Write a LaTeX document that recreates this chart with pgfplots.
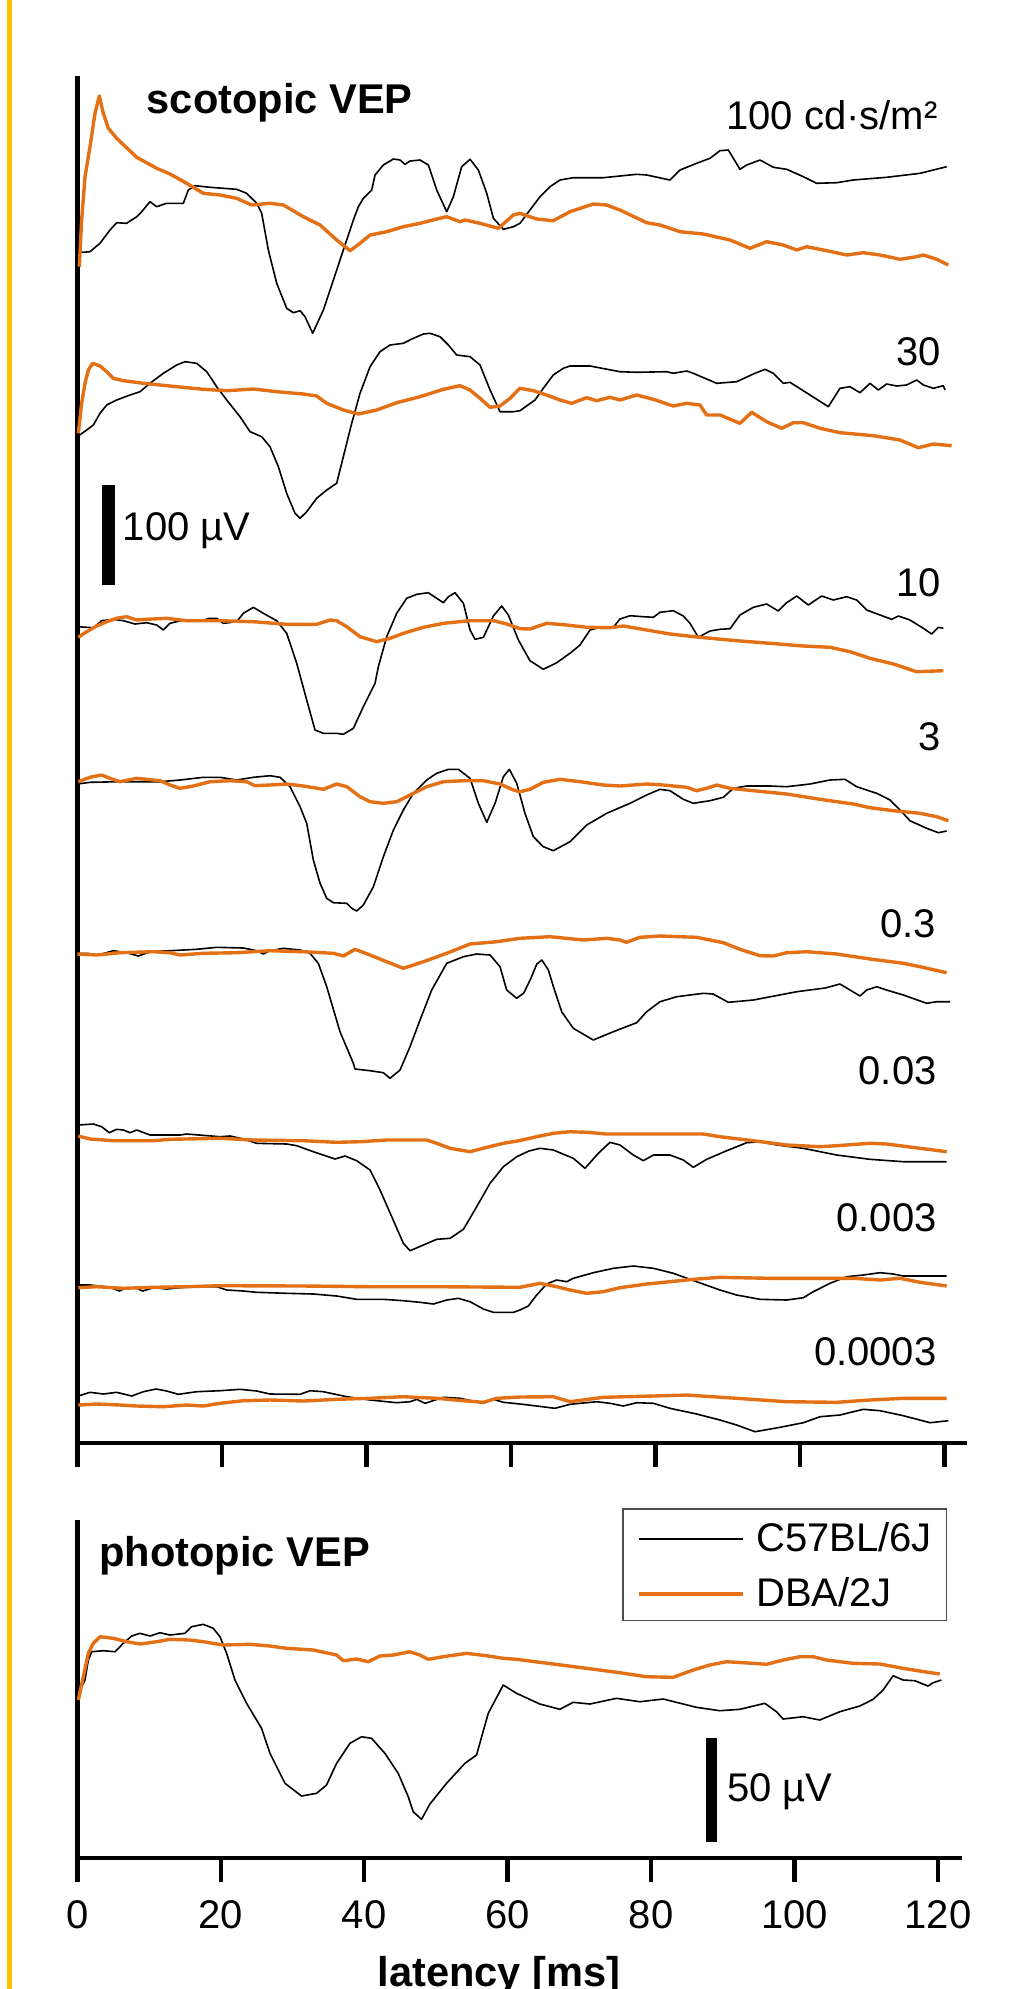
\documentclass[border=0pt]{standalone}
\usepackage{fontspec}
\setmainfont{Liberation Sans}
\usepackage{pgfplots}
\pgfplotsset{compat=1.18}
\definecolor{dba}{RGB}{228,112,22}
\definecolor{goldline}{RGB}{255,192,0}
\pgfplotsset{
  blk/.style={black, line width=0.4pt, line join=round},
  org/.style={dba, line width=0.85pt, line join=round},
  vep/.style={
    scale only axis, clip=false,
    axis lines=left, axis line style={-, line width=1.15pt},
    xmin=0, ytick=\empty,
    xtick={0,20,40,60,80,100,120},
    tick align=outside, major tick length=6pt,
    tick style={line width=1.1pt, black},
    /pgf/number format/assume math mode=true,
    ticklabel style={font=\fontsize{10}{12}\selectfont},
  },
}
\newcommand{\lbl}{\fontsize{10}{12}\selectfont}
\newcommand{\blbl}{\bfseries\fontsize{10.4}{12.5}\selectfont}
\begin{document}
\begin{tikzpicture}
\useasboundingbox (0pt,0pt) rectangle (252pt,-497.25pt);
\fill[goldline] (1.625pt,0pt) rectangle (2.875pt,-497.25pt);

% ---------------- scotopic ----------------
\begin{axis}[vep,
  at={(19.325pt,-360.75pt)}, anchor=south west,
  width=222.35pt, height=341.75pt,
  xmax=123.1, ymin=-1443, ymax=-76,
  xticklabels={},
]
% 100 cd s/m2
\addplot[blk] coordinates {(0,-252.7)(1.76,-251.7)(3.14,-243.3)(4.53,-230)(5.45,-222.7)(6.83,-223.3)(8.22,-216.7)(8.91,-211.7)(10.06,-201.7)(10.99,-206.7)(12.37,-203.3)(14.68,-203.3)(15.37,-190)(16.29,-185.7)(18.37,-187.3)(22.06,-189.3)(23.44,-193.3)(24.83,-203.3)(25.52,-213.3)(26.44,-250)(27.60,-283.3)(28.98,-308.3)(29.90,-312.7)(30.83,-310.7)(31.52,-316.7)(32.58,-333.3)(34.06,-310)(35.44,-280)(36.82,-250)(38.21,-220)(38.90,-206.7)(39.59,-198.3)(40.75,-190)(41.21,-175)(42.36,-165)(43.75,-159)(44.67,-160)(45.36,-164.3)(46.05,-161)(47.44,-160)(48.59,-165)(49.74,-190)(51.13,-211.7)(52.05,-196.7)(53.20,-166.7)(54.36,-159.3)(55.51,-170)(56.67,-193.3)(57.59,-218.3)(58.97,-229.3)(60.36,-226.7)(61.27,-223.3)(62.65,-210)(64.04,-196.7)(65.42,-186.7)(66.81,-180)(68.65,-177.7)(72.81,-177.7)(77.42,-174.3)(78.80,-175)(82.03,-180)(83.42,-170)(85.72,-163.3)(87.57,-158.3)(88.95,-150.7)(90.11,-150)(91.72,-169.3)(92.65,-165)(94.49,-160)(96.34,-167.3)(98.18,-169.3)(100.49,-176.7)(102.33,-183.3)(105.10,-182.7)(107.41,-180)(112.02,-177.3)(116.64,-173.3)(120.33,-166.7)};
\addplot[org] coordinates {(0.28,-266.7)(0.60,-220)(1.07,-176.7)(1.76,-146.7)(2.45,-113.3)(3.05,-96)(3.60,-113.3)(4.30,-128.3)(5.45,-138.3)(8.22,-157.3)(10.99,-168.3)(12.83,-174)(15.14,-183.3)(17.45,-193.3)(19.75,-195)(22.06,-198.3)(24.14,-205)(26.67,-203.3)(28.52,-205)(31.29,-216.7)(33.60,-225)(35.90,-240)(37.75,-250.7)(39.13,-243.3)(40.52,-235)(42.82,-231.7)(45.13,-226.7)(47.44,-223.3)(49.74,-219)(51.13,-216.7)(52.97,-221.7)(53.67,-220)(55.74,-223.3)(58.28,-228.3)(60.36,-215)(61.27,-213.3)(63.58,-219)(65.88,-220.7)(68.19,-211.7)(71.42,-204)(73.27,-205)(75.11,-210)(78.80,-222.7)(80.65,-225)(83.42,-231.7)(86.65,-234)(90.34,-240)(93.11,-248.3)(95.41,-241.7)(97.72,-245)(99.57,-250)(100.95,-246.7)(103.72,-250.7)(106.49,-255)(108.79,-252.7)(111.10,-255)(113.87,-259.3)(116.18,-256.7)(117.10,-255)(118.95,-259.3)(120.56,-265)};
% 30
\addplot[blk] coordinates {(0,-436.7)(1.30,-430)(2.22,-425)(3.14,-413.3)(4.07,-405)(5.45,-400)(7.30,-395)(8.68,-391.7)(10.06,-383.3)(11.91,-373.3)(13.75,-365)(14.91,-361.7)(16.52,-363.3)(17.91,-371.7)(19.29,-386.7)(20.68,-400)(22.52,-416.7)(23.91,-431.7)(25.52,-436.7)(26.67,-446.7)(27.83,-466.7)(28.98,-493.3)(30.13,-513.3)(30.83,-518.3)(31.75,-511.7)(33.13,-498.3)(34.52,-490)(35.90,-483.3)(36.82,-456.7)(37.98,-423.3)(39.13,-393.3)(40.52,-366.7)(41.90,-351.7)(43.28,-345)(45.13,-343.3)(46.51,-338.3)(47.90,-334)(48.82,-333.3)(50.21,-336.7)(51.36,-345)(52.51,-355)(54.36,-356.7)(55.74,-365)(57.13,-390)(58.51,-411.7)(60.36,-411.7)(61.27,-410.7)(63.35,-400)(64.50,-388.3)(65.88,-375)(67.27,-368.3)(68.19,-366)(70.96,-366)(75.11,-371.7)(77.42,-372.3)(81.57,-371.7)(82.49,-373.3)(84.34,-371)(85.26,-373.3)(88.49,-383.3)(91.26,-381.7)(93.57,-374)(95.18,-369.3)(96.34,-373.3)(97.72,-383.3)(98.64,-382.3)(101.41,-395)(103.95,-406.7)(105.56,-388.3)(106.95,-386.7)(108.33,-392.7)(109.72,-383.3)(110.87,-390)(112.02,-384)(113.41,-386)(114.79,-385)(116.18,-380)(117.10,-385)(118.48,-388.3)(119.87,-385.7)(120.10,-390)};
\addplot[org] coordinates {(0.14,-433.3)(0.60,-403.3)(1.07,-383.3)(1.53,-370)(2.13,-363.3)(3.14,-366)(4.07,-371.7)(4.99,-378.3)(6.37,-380.7)(9.14,-383.3)(12.83,-386)(17.45,-389.3)(20.68,-390.7)(24.37,-389)(27.60,-391.7)(31.29,-394)(33.13,-396)(34.52,-403.3)(36.82,-410)(38.90,-414)(41.44,-410)(44.21,-402.7)(47.44,-396.7)(50.67,-389.3)(52.97,-385.7)(54.36,-390)(55.74,-398.3)(57.13,-407.3)(58.51,-406)(59.90,-398.3)(61.27,-388.3)(63.12,-390.7)(64.96,-395)(66.81,-400)(68.42,-403.3)(70.50,-397.7)(71.88,-400.7)(73.73,-397.3)(75.11,-400)(77.42,-395)(79.73,-399.3)(82.49,-406)(84.34,-403.3)(86.19,-405)(87.11,-415)(88.95,-415)(91.72,-423.3)(93.34,-412.3)(95.41,-421.7)(97.49,-428.3)(99.10,-422.7)(100.49,-422.7)(102.80,-428.3)(105.56,-432.7)(110.18,-435.7)(113.87,-440)(116.41,-447.7)(118.48,-444)(121.02,-445.7)};
% 10
\addplot[blk] coordinates {(0,-626.7)(1.30,-627.3)(2.22,-627.7)(3.37,-620.7)(4.99,-619.3)(6.37,-620.7)(7.99,-624)(9.60,-622.7)(10.99,-625)(11.91,-630)(12.83,-623.3)(14.68,-620)(17.45,-620)(18.37,-618.3)(19.29,-618.3)(20.21,-623.3)(22.06,-621.7)(22.98,-613.3)(24.37,-607.3)(25.75,-613.3)(27.60,-620.7)(28.98,-633.3)(30.37,-663.3)(31.75,-700)(32.90,-730)(34.06,-733.3)(35.90,-733.3)(36.82,-734.3)(38.21,-728.3)(39.59,-706.7)(41.21,-683.3)(41.67,-666.7)(42.82,-636.7)(44.21,-613.3)(45.59,-598.3)(46.98,-594.3)(48.59,-592.7)(49.74,-598.3)(50.67,-602.7)(51.36,-596.7)(52.28,-592.7)(53.44,-603.3)(54.36,-630)(55.05,-639.3)(56.21,-637.3)(57.59,-616)(58.74,-606)(59.66,-615)(61.05,-640)(62.65,-660.7)(64.50,-669.3)(66.35,-662.7)(68.19,-653.3)(69.58,-645)(70.96,-630)(72.34,-627.3)(74.19,-627.3)(75.11,-619)(76.50,-615.7)(78.34,-616.7)(79.73,-617.3)(80.65,-612.3)(82.49,-610.7)(83.88,-616)(84.80,-623.3)(85.95,-637.3)(87.57,-631)(88.95,-629.3)(90.34,-628.7)(91.72,-615)(93.57,-607.3)(95.41,-604)(97.03,-611)(98.18,-602.7)(99.57,-596)(101.18,-605)(103.03,-596)(104.64,-600)(106.49,-596.7)(107.87,-600)(109.26,-610)(111.10,-615)(112.72,-619.3)(113.64,-616)(115.25,-620)(117.10,-628.3)(118.25,-634)(119.18,-627.3)(119.87,-628.3)};
\addplot[org] coordinates {(0.14,-637.3)(1.30,-631.7)(2.68,-626)(4.07,-621.7)(5.45,-618.3)(6.83,-616.7)(8.22,-620)(9.60,-619.3)(12.37,-618.3)(15.14,-620.7)(19.75,-620.7)(24.37,-621.7)(28.98,-624.3)(33.13,-624.3)(34.98,-620)(35.90,-620.7)(37.29,-626.7)(39.13,-636.7)(41.44,-641.7)(43.28,-638.3)(45.13,-633.3)(47.90,-627.3)(50.67,-623.3)(54.36,-620.7)(57.59,-620.7)(59.43,-624)(61.28,-628.7)(62.65,-629)(64.96,-623.3)(67.73,-625)(70.50,-627.3)(73.73,-627.7)(75.57,-626)(77.42,-628.3)(82.03,-634)(86.19,-637.3)(91.26,-640.7)(95.88,-643.3)(100.49,-646)(104.18,-647.3)(106.95,-651.7)(109.72,-658.3)(112.95,-664)(116.18,-671.7)(119.87,-670.7)};
% 3
\addplot[blk] coordinates {(0,-784)(1.76,-782.3)(5.91,-781.7)(11.45,-781.7)(14.22,-780)(17.45,-777.3)(19.75,-777.3)(22.06,-780)(24.37,-777.3)(26.67,-775.7)(28.06,-777.3)(29.44,-786.7)(30.83,-806.7)(31.75,-823.3)(32.67,-860)(33.60,-883.3)(34.52,-898.3)(35.44,-902.7)(37.29,-903.3)(37.98,-908.3)(38.67,-911)(39.59,-905)(40.98,-886.7)(42.36,-856.7)(43.75,-830)(45.13,-810)(46.51,-793.3)(48.36,-780)(49.74,-773.3)(51.36,-769.3)(52.74,-769.3)(54.36,-778.3)(55.51,-803.3)(56.67,-822.3)(57.82,-803.3)(58.97,-776.7)(59.80,-769.3)(60.82,-783.3)(61.96,-813.3)(63.12,-836.7)(64.50,-846.7)(65.88,-850.7)(68.19,-841.7)(70.50,-825)(73.27,-813.3)(76.50,-803.3)(78.80,-795)(80.65,-789.3)(82.03,-790.7)(83.88,-799.3)(85.26,-803.3)(87.57,-800.7)(89.42,-797.3)(90.80,-788.3)(92.65,-786)(95.88,-786)(98.18,-786.7)(101.41,-784)(104.18,-780)(106.26,-779.3)(107.87,-786.7)(110.64,-793.3)(112.49,-800)(113.87,-810)(115.25,-820.7)(117.56,-828.3)(119.18,-832.7)(120.33,-831)};
\addplot[org] coordinates {(0.14,-781.7)(1.76,-777.3)(3.37,-775)(4.53,-778.3)(5.91,-781.7)(8.22,-778.3)(11.45,-780.7)(12.83,-785)(14.22,-788.3)(16.06,-786)(18.37,-781.7)(21.14,-780.7)(23.44,-781.7)(24.60,-785.7)(26.67,-785)(28.98,-784)(31.29,-786)(34.06,-789.3)(35.90,-784)(37.29,-786.7)(39.13,-796.7)(40.52,-801.7)(42.36,-803.3)(44.21,-801.7)(46.05,-795)(48.36,-786.7)(50.67,-781.7)(53.44,-780.7)(56.21,-780.7)(58.51,-784)(60.36,-790)(61.27,-791.7)(62.65,-789.3)(64.50,-782.3)(66.81,-779.3)(69.58,-781.7)(72.81,-785)(75.11,-786)(78.80,-784)(81.11,-785)(84.34,-787.3)(85.72,-790.7)(87.11,-788.3)(88.49,-785)(90.34,-788.3)(93.57,-790.7)(98.18,-794)(102.80,-799.3)(107.41,-804)(109.72,-807.7)(112.95,-810.7)(116.64,-813.3)(118.95,-816.7)(120.56,-820.7)};
% 0.3
\addplot[blk] coordinates {(0,-953.3)(1.30,-953.3)(2.91,-955)(4.99,-950.7)(6.83,-952.7)(8.45,-956)(10.06,-951.7)(12.83,-950.7)(16.52,-949.3)(19.29,-947.3)(22.98,-948)(24.83,-950.7)(25.75,-954)(26.67,-950.7)(28.52,-948.3)(30.83,-950)(32.21,-953.3)(33.36,-963.3)(34.52,-986.7)(36.36,-1031.7)(38.21,-1063.3)(38.44,-1069)(40.52,-1070.7)(42.36,-1072.7)(43.28,-1078.3)(44.67,-1070)(46.05,-1046.7)(47.44,-1020)(49.05,-990)(51.13,-963.3)(53.44,-956.7)(55.28,-954)(57.13,-955)(58.51,-966.7)(59.43,-990)(60.82,-998.3)(61.8,-993)(62.8,-978)(63.6,-964)(64.3,-960)(65.2,-970)(65.9,-986.7)(67.04,-1011.7)(68.65,-1028.3)(71.42,-1040)(74.19,-1031.7)(77.42,-1022.7)(78.80,-1011.7)(80.65,-1001.7)(82.96,-996.7)(86.65,-993.3)(88.0,-994)(90.11,-1002.3)(93.57,-1000)(99.57,-991.7)(103.5,-988)(105.56,-984)(106.95,-990)(108.33,-996)(109.26,-990)(110.64,-986.7)(112.0,-990)(114.33,-995)(117.56,-1003.3)(118.95,-1001.7)(120.79,-1001.7)};
\addplot[org] coordinates {(0,-954)(2.68,-955)(5.91,-952.7)(10.53,-951.7)(12.83,-952.7)(14.22,-955)(17.45,-953.3)(22.06,-952.7)(26.67,-950.7)(31.29,-951.7)(35.44,-953.3)(36.82,-956)(38.44,-949.3)(40.52,-955)(42.82,-961.7)(45.13,-968.3)(47.90,-961.7)(51.13,-953.3)(54.36,-944)(58.05,-941.7)(61.28,-938.3)(65.42,-936.7)(70.04,-940)(73.27,-938.3)(75.11,-940)(76.03,-942.3)(77.88,-937.3)(80.65,-936)(85.72,-937.3)(89.42,-942.7)(91.72,-949.3)(94.49,-955.7)(96.34,-956)(98.18,-952.7)(100.95,-951.7)(105.10,-954)(109.72,-959)(114.33,-963.3)(116.64,-966.7)(120.33,-972.7)};
% 0.03
\addplot[blk] coordinates {(0.14,-1125)(2.22,-1124)(3.37,-1126.7)(4.43,-1132.7)(5.45,-1129.3)(6.37,-1130)(7.30,-1132.7)(8.22,-1130)(10.06,-1135)(14.22,-1135)(15.14,-1134)(19.75,-1136.7)(21.14,-1136)(22.98,-1139)(24.83,-1143.3)(28.98,-1144)(30.37,-1145.7)(32.67,-1151.7)(35.67,-1159)(37.06,-1156)(38.67,-1160.7)(40.52,-1170)(41.90,-1190)(43.52,-1216.7)(45.13,-1243.3)(46.05,-1250.7)(47.90,-1245)(49.74,-1239.3)(51.59,-1238.3)(53.44,-1229.3)(55.28,-1206.7)(57.13,-1183.3)(58.97,-1166.7)(60.82,-1156.7)(62.5,-1151)(64.04,-1148.3)(65.88,-1150)(68.65,-1158.3)(70.27,-1168.3)(72.11,-1153.3)(73.73,-1142.3)(75.11,-1145)(76.96,-1155)(78.34,-1160.7)(79.73,-1155)(82.03,-1155)(83.88,-1160)(85.26,-1167.3)(87.11,-1159.3)(89.88,-1150.7)(92.65,-1142.7)(94.49,-1141.7)(96.80,-1145)(100.49,-1148.3)(105.10,-1155)(109.72,-1159.3)(114.33,-1161.7)(120.33,-1161.7)};
\addplot[org] coordinates {(0.14,-1136)(1.76,-1139)(4.99,-1140.7)(10.53,-1140.7)(12.83,-1139.3)(19.75,-1138.3)(24.37,-1140)(31.29,-1140.7)(35.90,-1142.3)(39.13,-1141.7)(42.82,-1140)(48.36,-1140)(49.74,-1143.3)(51.59,-1148.3)(54.36,-1151.7)(56.67,-1147.3)(58.97,-1143.3)(61.28,-1140.5)(63.58,-1136.7)(65.88,-1133.3)(68.19,-1131.7)(70.50,-1132.3)(73.27,-1134)(79.73,-1134)(86.65,-1134)(88.95,-1136.7)(93.57,-1140.7)(98.18,-1145)(102.80,-1146.7)(105.10,-1145.7)(109.72,-1143.3)(112.02,-1144)(116.64,-1148.3)(120.33,-1151.7)};
% 0.003
\addplot[blk] coordinates {(0.14,-1285)(1.76,-1285)(3.14,-1286)(4.53,-1287.3)(5.82,-1291)(6.83,-1287.7)(8.22,-1288.3)(9.05,-1291)(10.53,-1287.7)(12.37,-1289)(14.22,-1287.7)(16.52,-1286.7)(19.29,-1286.7)(20.68,-1290)(22.98,-1291)(24.83,-1292.3)(28.98,-1293.3)(32.67,-1294)(35.90,-1296)(38.67,-1299.3)(42.36,-1299.3)(45.13,-1300.7)(47.44,-1302.3)(49.28,-1304)(51.13,-1300)(52.74,-1298.3)(54.36,-1301.7)(56.21,-1309)(57.59,-1312.3)(60.36,-1312.3)(61.27,-1310)(62.42,-1306)(63.58,-1295)(64.96,-1284)(66.35,-1280)(67.73,-1281.7)(68.65,-1278.3)(71.42,-1272.7)(74.19,-1268.3)(76.96,-1266)(79.73,-1268.3)(82.49,-1273.3)(85.72,-1281.7)(88.95,-1290)(91.26,-1295)(94.49,-1299.3)(98.18,-1300)(100.49,-1297.7)(101.87,-1291.7)(104.18,-1283.3)(106.49,-1276.7)(108.79,-1275)(111.10,-1272.7)(112.95,-1274)(114.33,-1276)(120.33,-1276)};
\addplot[org] coordinates {(0.14,-1287.7)(2.68,-1286.7)(6.37,-1288.3)(10.53,-1287.3)(15.14,-1286.7)(19.75,-1285.7)(31.29,-1286)(40.52,-1286.7)(49.74,-1286.7)(61.28,-1287.3)(64.04,-1283.3)(66.35,-1286.7)(68.19,-1290)(70.50,-1293.3)(72.81,-1291.7)(75.11,-1287.7)(78.80,-1284)(82.03,-1281.7)(85.26,-1279.3)(88.95,-1277.3)(95.88,-1278.3)(102.80,-1278.3)(107.41,-1278.3)(111.10,-1280)(113.87,-1278.3)(116.64,-1282.3)(120.33,-1286)};
% 0.0003
\addplot[blk] coordinates {(0.14,-1396)(1.76,-1392.3)(3.60,-1394)(5.45,-1392.3)(7.53,-1396)(9.14,-1391.7)(10.89,-1389)(12.37,-1391)(13.99,-1394.3)(16.52,-1391.7)(19.75,-1390.7)(22.52,-1389.3)(24.83,-1391)(26.67,-1394)(30.83,-1394.3)(32.21,-1390.7)(34.06,-1391.7)(37.29,-1396.7)(40.52,-1400)(44.21,-1402.7)(46.05,-1401.7)(46.98,-1399.3)(48.13,-1403.3)(50.67,-1397.3)(52.97,-1398.3)(56.21,-1403.3)(57.59,-1399.3)(58.97,-1402.3)(61.28,-1404)(63.58,-1406)(66.11,-1408.3)(68.19,-1404.3)(71.88,-1401.7)(73.73,-1403.3)(75.57,-1406)(77.42,-1402.7)(79.73,-1403.3)(82.03,-1408.3)(85.72,-1414)(88.95,-1420)(91.26,-1425)(93.80,-1431.7)(97.26,-1427.3)(100.49,-1422.7)(102.80,-1416.7)(105.56,-1415)(107.41,-1411.7)(108.79,-1409.3)(111.10,-1410.7)(114.33,-1415.7)(118.02,-1422.7)(120.56,-1420.7)};
\addplot[org] coordinates {(0.14,-1405)(2.68,-1404)(5.91,-1405)(8.22,-1406)(11.91,-1406.7)(15.14,-1405)(17.45,-1406)(19.75,-1403.3)(22.98,-1400.7)(26.67,-1400)(31.29,-1401)(35.90,-1399.3)(40.52,-1398.3)(45.13,-1396.7)(49.74,-1398.3)(53.44,-1400.7)(56.21,-1402.3)(58.05,-1398.3)(61.28,-1397)(65.88,-1396.7)(68.19,-1401.7)(72.81,-1397.3)(79.73,-1396)(84.34,-1395)(91.26,-1398.3)(98.18,-1401.7)(105.10,-1402.3)(109.72,-1400)(114.33,-1398.3)(120.33,-1398.3)};

\node[anchor=base west, inner sep=0pt, font=\blbl] at (axis cs:9.51,-113) {scotopic VEP};
\node[anchor=base east, inner sep=0pt, font=\lbl] at (axis cs:119.17,-129.3) {100 cd·s/m²};
\node[anchor=base east, inner sep=0pt, font=\lbl] at (axis cs:119.64,-365) {30};
\node[anchor=base east, inner sep=0pt, font=\lbl] at (axis cs:119.64,-596.7) {10};
\node[anchor=base east, inner sep=0pt, font=\lbl] at (axis cs:119.64,-750) {3};
\node[anchor=base east, inner sep=0pt, font=\lbl] at (axis cs:118.95,-937) {0.3};
\node[anchor=base east, inner sep=0pt, font=\lbl] at (axis cs:119.03,-1084.3) {0.03};
\node[anchor=base east, inner sep=0pt, font=\lbl] at (axis cs:119.03,-1231.7) {0.003};
\node[anchor=base east, inner sep=0pt, font=\lbl] at (axis cs:119.03,-1365) {0.0003};
\draw[line width=3.3pt] (axis cs:4.3,-485) -- (axis cs:4.3,-585);
\node[anchor=base west, inner sep=0pt, font=\lbl] at (axis cs:6.21,-540) {100 µV};
\end{axis}

% ---------------- photopic ----------------
\begin{axis}[vep,
  at={(19.325pt,-464.5pt)}, anchor=south west,
  width=221.1pt, height=84.5pt,
  xmax=123.3, ymin=-1858, ymax=-1520,
  xticklabel style={yshift=-1.2pt},
  xlabel={latency [ms]},
  xlabel style={font=\blbl, at={(axis description cs:0.4768,0)}, anchor=base, yshift=-32pt},
  legend style={at={(axis cs:75.96,-1508.3)}, anchor=north west, draw=black!70, line width=0.4pt,
    inner xsep=3.6pt, inner ysep=3.4pt, row sep=6.45pt, column sep=2.9pt,
    font=\lbl, nodes={inner sep=0pt, text height=7.3pt, text depth=0pt}, cells={anchor=base west}},
  legend image code/.code={\draw[#1] (0pt,3.25pt) -- (26pt,3.25pt);},
]
\addplot[blk] coordinates {(0.14,-1700)(0.61,-1686.7)(1.07,-1680)(1.54,-1660)(2.00,-1651.7)(3.63,-1650.7)(5.25,-1651.7)(6.41,-1643.3)(7.58,-1636)(8.74,-1633.3)(10.13,-1636)(11.52,-1632.7)(12.92,-1635)(15.01,-1633.3)(15.94,-1626.7)(17.56,-1624.3)(18.96,-1628.3)(19.89,-1636.7)(20.82,-1653.3)(21.98,-1680)(23.60,-1703.3)(25.69,-1728.3)(26.86,-1753.3)(28.95,-1783.3)(31.27,-1796)(33.36,-1793.3)(34.75,-1785)(36.15,-1763.3)(38.01,-1743.3)(39.63,-1736.7)(41.03,-1738.3)(42.88,-1753.3)(44.74,-1773.3)(46.14,-1796.7)(46.83,-1811.7)(47.99,-1819.3)(49.16,-1804)(51.48,-1783.3)(54.04,-1763.3)(55.66,-1755)(57.29,-1713.3)(59.38,-1685)(61.24,-1693.3)(64.49,-1704)(67.28,-1709.3)(69.13,-1702.3)(71.46,-1704)(75.17,-1698.3)(78.43,-1701.7)(81.68,-1699)(86.32,-1707.3)(89.58,-1710.7)(92.36,-1709.3)(95.85,-1703.3)(97.47,-1711.7)(98.40,-1719)(101.19,-1716.7)(103.51,-1720)(106.30,-1711.7)(109.09,-1706)(110.95,-1699.3)(112.34,-1690)(113.74,-1675.7)(115.13,-1680)(116.76,-1680.7)(118.61,-1686)(119.31,-1682.7)(120.47,-1680)};
\addlegendentry{C57BL/6J}
\addplot[org] coordinates {(0.14,-1700)(0.84,-1676.7)(1.54,-1653.3)(2.23,-1643.3)(3.16,-1636.7)(5.02,-1638.3)(6.88,-1641.7)(8.74,-1644)(11.06,-1641.7)(12.92,-1639.3)(15.71,-1640)(17.56,-1641.7)(20.35,-1645)(24.07,-1644.3)(26.86,-1646)(29.18,-1648.3)(32.90,-1650)(36.15,-1655)(37.08,-1660.7)(38.94,-1659)(40.56,-1661.7)(42.19,-1656)(44.05,-1655)(46.37,-1651.7)(47.76,-1655)(48.92,-1659.3)(51.02,-1656.7)(54.27,-1653.3)(57.05,-1655.7)(59.38,-1658.3)(61.24,-1659.3)(66.35,-1664)(70.99,-1668.3)(75.64,-1672.7)(79.35,-1676.7)(83.07,-1677.3)(85.86,-1670)(88.18,-1665)(90.51,-1661.7)(94.22,-1663.3)(96.08,-1664.3)(98.40,-1660)(100.73,-1656.7)(102.58,-1656.7)(104.44,-1660)(108.16,-1663.3)(111.88,-1664)(115.13,-1668.3)(117.45,-1671)(120.24,-1674)};
\addlegendentry{DBA/2J}
\node[anchor=base west, inner sep=0pt, font=\blbl] at (axis cs:2.98,-1566.7) {photopic VEP};
\draw[line width=2.75pt] (axis cs:88.35,-1738) -- (axis cs:88.35,-1842);
\node[anchor=base west, inner sep=0pt, font=\lbl] at (axis cs:90.5,-1801.7) {50 µV};
\end{axis}
\end{tikzpicture}
\end{document}
